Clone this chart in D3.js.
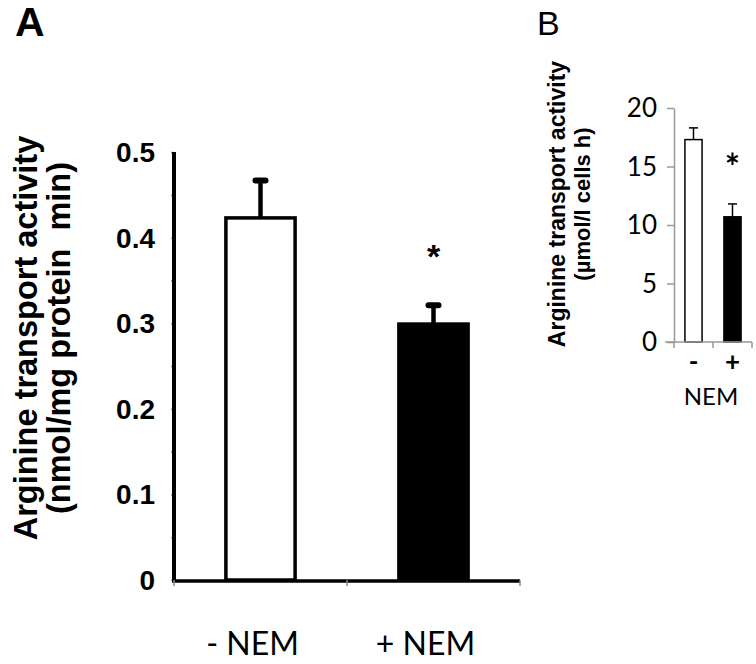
<!DOCTYPE html>
<html>
<head>
<meta charset="utf-8">
<script src="https://cdn.jsdelivr.net/npm/d3@7"></script>
<style>
  body { margin: 0; background: #fff; }
  svg { display: block; }
</style>
</head>
<body>
<svg id="chart" width="756" height="664"></svg>
<script>
// panel A data
var catsA = ["- NEM", "+ NEM"];
var valuesA = [0.423, 0.299];
var errorsA = [0.045, 0.023];
var ticksA = [0, 0.1, 0.2, 0.3, 0.4, 0.5];
var fillsA = ["#fff", "#000"];

// panel B data
var catsB = ["-", "+"];
var valuesB = [17.3, 10.7];
var errorsB = [1.0, 1.1];
var ticksB = [0, 5, 10, 15, 20];

var svg = d3.select("#chart");
var boldFont = "'Liberation Sans', Arial, sans-serif";
var lightFont = "Lato, 'Open Sans', sans-serif";

// ---------------- panel A ----------------
var gA = svg.append("g");

var xA = d3.scaleBand()
  .domain(catsA)
  .range([174, 520])
  .paddingInner(0.6)
  .paddingOuter(0.3);

var yA = d3.scaleLinear()
  .domain([0, 0.5])
  .range([580, 152]);

// minor grey ticks every 0.05
gA.append("g")
  .attr("transform", "translate(174,0)")
  .call(d3.axisLeft(yA).ticks(10).tickSize(3).tickFormat(""))
  .call(g => g.select(".domain").remove())
  .call(g => g.selectAll("line").attr("stroke", "#999").attr("stroke-width", 1.5));

// tick labels
gA.selectAll(".tlA")
  .data(ticksA)
  .enter()
  .append("text")
  .attr("x", 155)
  .attr("y", d => yA(d))
  .attr("dy", "0.36em")
  .attr("text-anchor", "end")
  .style("font-family", boldFont)
  .style("font-weight", "bold")
  .style("font-size", "28px")
  .text(d => d === 0 ? "0" : d3.format(".1f")(d));

// bars
gA.selectAll(".barA")
  .data(valuesA)
  .enter()
  .append("rect")
  .attr("x", (d, i) => xA(catsA[i]))
  .attr("y", d => yA(d))
  .attr("width", xA.bandwidth())
  .attr("height", d => yA(0) - yA(d))
  .attr("fill", (d, i) => fillsA[i])
  .attr("stroke", "#000")
  .attr("stroke-width", 3.5);

// error bars
valuesA.forEach(function(v, i) {
  var cx = xA(catsA[i]) + xA.bandwidth() / 2;
  gA.append("line")
    .attr("x1", cx).attr("x2", cx)
    .attr("y1", yA(v)).attr("y2", yA(v + errorsA[i]))
    .attr("stroke", "#000")
    .attr("stroke-width", 4.5);
  gA.append("line")
    .attr("x1", cx - 5).attr("x2", cx + 5)
    .attr("y1", yA(v + errorsA[i]) + 1).attr("y2", yA(v + errorsA[i]) + 1)
    .attr("stroke", "#000")
    .attr("stroke-width", 6)
    .attr("stroke-linecap", "round");
});

// axes lines
gA.append("line")
  .attr("x1", 174).attr("x2", 174)
  .attr("y1", yA(0.5)).attr("y2", yA(0) + 2)
  .attr("stroke", "#000").attr("stroke-width", 4);
gA.append("line")
  .attr("x1", 172).attr("x2", 520)
  .attr("y1", yA(0) + 1).attr("y2", yA(0) + 1)
  .attr("stroke", "#000").attr("stroke-width", 3.5);
// small grey ticks at x-axis boundaries
gA.selectAll(".xtA")
  .data([174, (174 + 520) / 2, 520])
  .enter()
  .append("line")
  .attr("x1", d => d).attr("x2", d => d)
  .attr("y1", yA(0)).attr("y2", yA(0) + 6)
  .attr("stroke", "#888").attr("stroke-width", 1.5);

// asterisk
gA.append("text")
  .attr("x", xA(catsA[1]) + xA.bandwidth() / 2)
  .attr("y", yA(valuesA[1] + errorsA[1]) - 36)
  .attr("text-anchor", "middle")
  .style("font-family", boldFont)
  .style("font-weight", "bold")
  .style("font-size", "34px")
  .text("*");

// category labels
gA.selectAll(".clA")
  .data(catsA)
  .enter()
  .append("text")
  .attr("x", d => xA(d) + xA.bandwidth() / 2 - 8)
  .attr("y", 655)
  .attr("text-anchor", "middle")
  .style("font-family", lightFont)
  .style("font-size", "32px")
  .text(d => d);

// y title
var tA = gA.append("text")
  .attr("transform", "translate(0,338) rotate(-90)")
  .attr("text-anchor", "middle")
  .style("font-family", boldFont)
  .style("font-weight", "bold")
  .style("font-size", "32.5px");
tA.append("tspan").attr("x", 0).attr("y", 37).text("Arginine transport activity");
tA.append("tspan").attr("x", 0).attr("y", 70).attr("xml:space", "preserve")
  .style("white-space", "pre").text("(nmol/mg protein  min)");

// panel letter
svg.append("text")
  .attr("x", 15).attr("y", 36)
  .style("font-family", boldFont)
  .style("font-weight", "bold")
  .style("font-size", "41px")
  .text("A");

// ---------------- panel B ----------------
var gB = svg.append("g");

var xB = d3.scaleBand()
  .domain(catsB)
  .range([674, 752])
  .paddingInner(0.56)
  .paddingOuter(0.28);

var yB = d3.scaleLinear()
  .domain([0, 20])
  .range([342, 108]);

gB.append("g")
  .attr("transform", "translate(674,0)")
  .call(d3.axisLeft(yB).tickValues(ticksB).tickSize(7).tickSizeOuter(0).tickFormat(""))
  .call(g => g.select(".domain").attr("stroke", "#999").attr("stroke-width", 1.5))
  .call(g => g.selectAll("line").attr("stroke", "#999").attr("stroke-width", 1.5));

gB.selectAll(".tlB")
  .data(ticksB)
  .enter()
  .append("text")
  .attr("x", 657)
  .attr("y", d => yB(d))
  .attr("dy", "0.36em")
  .attr("text-anchor", "end")
  .style("font-family", lightFont)
  .style("font-size", "26px")
  .text(d => d);

gB.selectAll(".barB")
  .data(valuesB)
  .enter()
  .append("rect")
  .attr("x", (d, i) => xB(catsB[i]))
  .attr("y", d => yB(d))
  .attr("width", xB.bandwidth())
  .attr("height", d => yB(0) - yB(d))
  .attr("fill", (d, i) => fillsA[i])
  .attr("stroke", "#000")
  .attr("stroke-width", 1.5);

valuesB.forEach(function(v, i) {
  var cx = xB(catsB[i]) + xB.bandwidth() / 2;
  gB.append("line")
    .attr("x1", cx).attr("x2", cx)
    .attr("y1", yB(v)).attr("y2", yB(v + errorsB[i]))
    .attr("stroke", "#000").attr("stroke-width", 1.5);
  gB.append("line")
    .attr("x1", cx - 4.5).attr("x2", cx + 4.5)
    .attr("y1", yB(v + errorsB[i])).attr("y2", yB(v + errorsB[i]))
    .attr("stroke", "#000").attr("stroke-width", 1.5);
});

// x axis B
gB.append("line")
  .attr("x1", 665).attr("x2", 752)
  .attr("y1", yB(0)).attr("y2", yB(0))
  .attr("stroke", "#999").attr("stroke-width", 1.5);
gB.selectAll(".xtB")
  .data([674, 713, 752])
  .enter()
  .append("line")
  .attr("x1", d => d).attr("x2", d => d)
  .attr("y1", yB(0)).attr("y2", yB(0) + 6)
  .attr("stroke", "#999").attr("stroke-width", 1.5);

gB.append("text")
  .attr("x", xB(catsB[1]) + xB.bandwidth() / 2)
  .attr("y", yB(valuesB[1] + errorsB[1]) - 24)
  .attr("text-anchor", "middle")
  .style("font-family", lightFont)
  .style("font-weight", "bold")
  .style("font-size", "36px")
  .text("*");

gB.selectAll(".clB")
  .data(catsB)
  .enter()
  .append("text")
  .attr("x", d => xB(d) + xB.bandwidth() / 2)
  .attr("y", 371)
  .attr("text-anchor", "middle")
  .style("font-family", lightFont)
  .style("font-weight", "bold")
  .style("font-size", "26px")
  .text(d => d);

gB.append("text")
  .attr("x", 711).attr("y", 405)
  .attr("text-anchor", "middle")
  .style("font-family", lightFont)
  .style("font-size", "24px")
  .text("NEM");

var tB = gB.append("text")
  .attr("transform", "translate(0,204) rotate(-90)")
  .attr("text-anchor", "middle")
  .style("font-family", boldFont)
  .style("font-weight", "bold");
tB.append("tspan").attr("x", 0).attr("y", 565).style("font-size", "23px").text("Arginine transport activity");
tB.append("tspan").attr("x", 0).attr("y", 590).style("font-size", "22px").text("(\u00b5mol/l cells h)");

svg.append("text")
  .attr("x", 537).attr("y", 35)
  .style("font-family", "'Liberation Sans', Arial, sans-serif")
  .style("font-size", "34px")
  .text("B");
</script>
</body>
</html>
